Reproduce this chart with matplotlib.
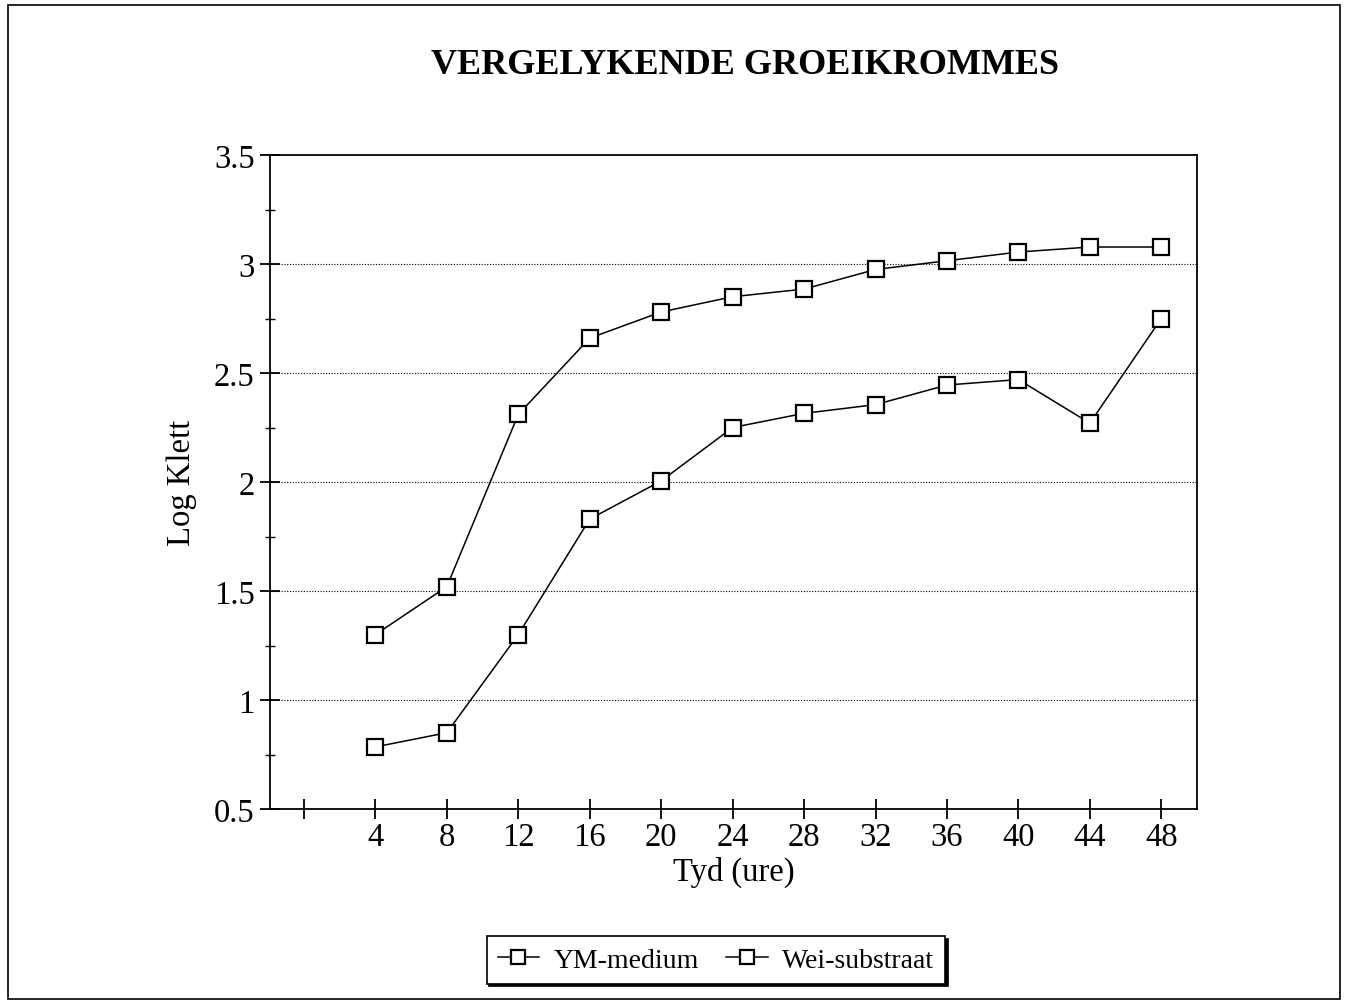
import matplotlib.pyplot as plt
from matplotlib.patches import Rectangle

# Tyd (ure)
tyd = [4, 8, 12, 16, 20, 24, 28, 32, 36, 40, 44, 48]
# Log Klett waardes
ym_medium = [1.30, 1.52, 2.31, 2.66, 2.78, 2.85, 2.885, 2.975, 3.015, 3.055, 3.078, 3.078]
wei_substraat = [0.785, 0.85, 1.30, 1.83, 2.005, 2.25, 2.315, 2.355, 2.445, 2.47, 2.27, 2.75]

x_ticks = [0] + tyd
x_labels = [''] + [str(t) for t in tyd]
y_ticks = [0.5, 1, 1.5, 2, 2.5, 3, 3.5]
y_labels = ['0.5', '1', '1.5', '2', '2.5', '3', '3.5']
y_minor = [0.75, 1.25, 1.75, 2.25, 2.75, 3.25]

plt.rcParams['font.family'] = ['Liberation Serif', 'DejaVu Serif']

fig = plt.figure(figsize=(13.48, 10.04), dpi=100)
ax = fig.add_axes([0.2003, 0.1932, 0.6877, 0.6514])

mk = dict(marker='s', markersize=12, markerfacecolor='white', markeredgecolor='black',
          markeredgewidth=1.6, color='black', linewidth=1.1)
ax.plot(tyd, ym_medium, label='YM-medium', **mk)
ax.plot(tyd, wei_substraat, label='Wei-substraat', **mk)

ax.set_xlim(-1.9, 50)
ax.set_ylim(0.5, 3.5)
ax.set_xticks(x_ticks)
ax.set_xticklabels(x_labels)
ax.set_yticks(y_ticks)
ax.set_yticklabels(y_labels)
ax.set_yticks(y_minor, minor=True)
ax.tick_params(axis='both', which='major', direction='inout', length=14, width=1.3,
               labelsize=23.5, pad=4)
ax.tick_params(axis='y', which='minor', direction='inout', length=7, width=1.0)
ax.tick_params(axis='x', pad=2)

for y in [1, 1.5, 2, 2.5, 3]:
    ax.axhline(y, color='black', linestyle=(0, (1, 1.5)), linewidth=0.8, zorder=0)

for s in ax.spines.values():
    s.set_linewidth(1.3)

ax.set_xlabel('Tyd (ure)', fontsize=23.5, labelpad=3)
ax.set_ylabel('Log Klett', fontsize=23.5, labelpad=12)

fig.text(0.553, 0.935, 'VERGELYKENDE GROEIKROMMES', ha='center', va='center',
         fontsize=26, fontweight='bold')

leg = fig.legend(loc='center', bbox_to_anchor=(0.531, 0.043), ncol=2, fontsize=20,
                 frameon=True, fancybox=False, shadow={'color': 'black', 'alpha': 1},
                 edgecolor='black', handlelength=1.5, columnspacing=1.0,
                 handletextpad=0.5, borderpad=0.4, markerscale=0.85)
leg.get_frame().set_linewidth(1.2)

fig.patches.append(Rectangle((0.006, 0.004), 0.988, 0.99, transform=fig.transFigure,
                             fill=False, edgecolor='black', linewidth=1.2))

fig.savefig('out.png', dpi=100)
